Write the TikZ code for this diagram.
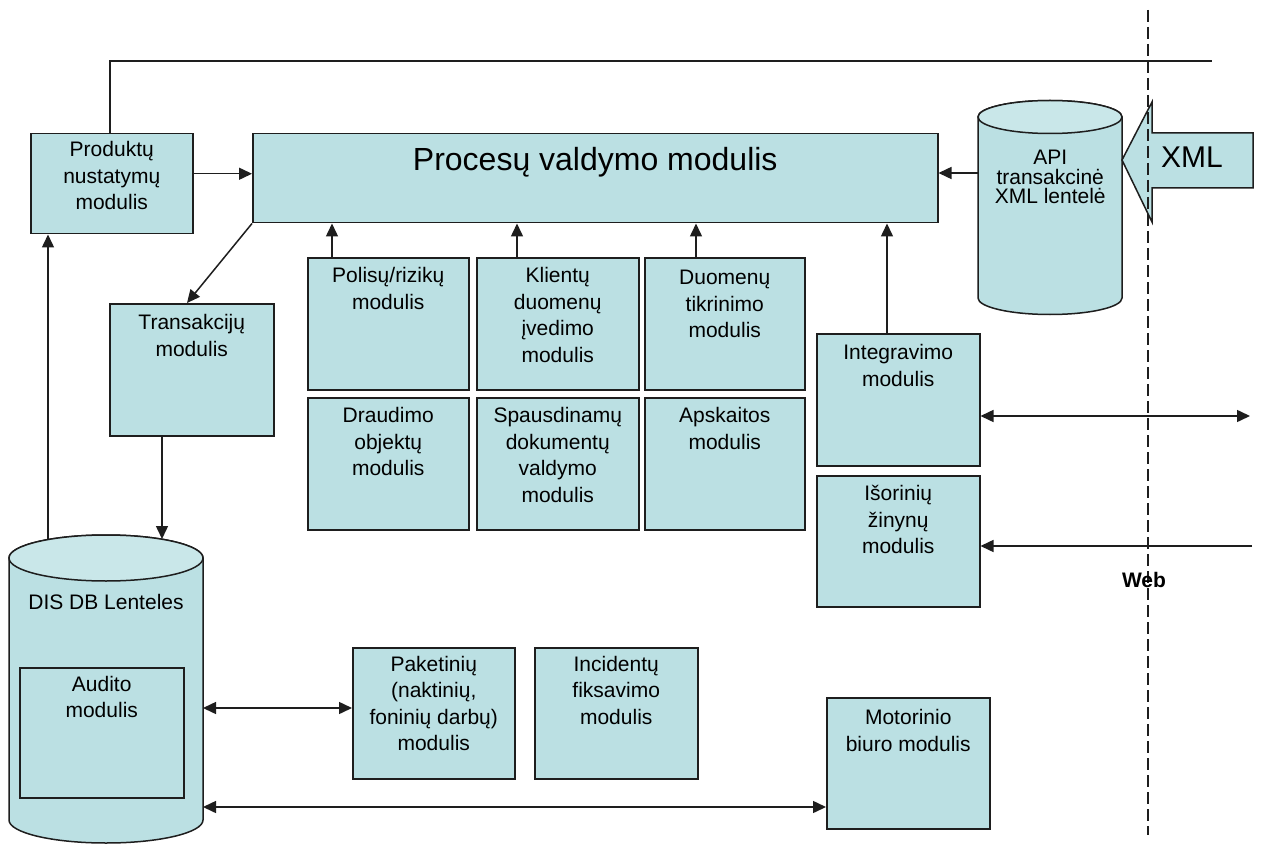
\documentclass[tikz,border=0pt]{standalone}
\usepackage{fontspec}
\setmainfont{Liberation Sans}
\usetikzlibrary{arrows.meta}
\definecolor{boxfill}{RGB}{187,224,227}
\definecolor{boxtop}{RGB}{201,231,233}
\definecolor{ink}{RGB}{30,30,30}
% box text: width, height, first baseline, lines
\newcommand{\modtxt}[4]{\parbox[c][#2pt][t]{#1pt}{\centering\rule{0pt}{#3pt}#4\par}}
\tikzset{
  modbox/.style={draw=ink, line width=1.5pt, fill=boxfill, inner sep=0pt,
    anchor=north west, font=\fontsize{21}{26.5}\selectfont},
  arr/.style={draw=ink, line width=1.5pt, -{Triangle[length=13pt,width=12pt]}},
  darr/.style={draw=ink, line width=1.5pt,
    {Triangle[length=13pt,width=12pt]}-{Triangle[length=13pt,width=12pt]}},
  link/.style={draw=ink, line width=1.5pt},
  cylbody/.style={fill=boxfill, draw=ink, line width=1.5pt},
  cyltop/.style={fill=boxtop, draw=ink, line width=1.5pt},
  plain/.style={font=\fontsize{21}{26.5}\selectfont, inner sep=0pt},
}
\begin{document}
\begin{tikzpicture}[x=1pt,y=-1pt]
\useasboundingbox[fill=white] (0,0) rectangle (1261,845);

% database cylinder with audit box
\path[cylbody] (9,558) -- (9,820)
  arc[start angle=180, end angle=360, x radius=97pt, y radius=23pt]
  -- (203,558)
  arc[start angle=0, end angle=180, x radius=97pt, y radius=23pt] -- cycle;
\path[cyltop] (106,558) ellipse[x radius=97pt, y radius=23pt];
\node[plain, anchor=base] (distext) at (106,609) {DIS DB Lenteles};
\node[modbox] (audit) at (19,667) {\modtxt{164}{130}{23.5}{Audito\\modulis}};

% API transaction table cylinder
\path[cylbody] (978,117) -- (978,298)
  arc[start angle=180, end angle=360, x radius=72pt, y radius=16.5pt]
  -- (1122,117)
  arc[start angle=0, end angle=180, x radius=72pt, y radius=16.5pt] -- cycle;
\path[cyltop] (1050,117) ellipse[x radius=72pt, y radius=16.5pt];
\node[plain, anchor=north west] (apitext) at (978,140)
  {\fontsize{21}{19.5}\selectfont\parbox[c][80pt][t]{144pt}{\centering\rule{0pt}{24.5pt}API\\transakcinė\\XML lentelė\par}};

% incoming XML block arrow
\path[cylbody] (1122,160) -- (1152,102) -- (1152,133) -- (1253,133)
  -- (1253,188) -- (1152,188) -- (1152,222) -- cycle;
\node[font=\fontsize{30}{36}\selectfont, inner sep=0pt, anchor=base] (xmltext) at (1192,168) {XML};

% modules
\node[modbox] (prod) at (30,133) {\modtxt{162}{100}{23}{Produktų\\nustatymų\\modulis}};
\node[modbox] (proc) at (252,133) {\modtxt{685}{89}{37}{\fontsize{32}{38}\selectfont Procesų valdymo modulis}};
\node[modbox] (trans) at (109,303) {\modtxt{164}{132}{26}{Transakcijų\\modulis}};
\node[modbox] (polis) at (307,257) {\modtxt{161}{132}{25}{Polisų/rizikų\\modulis}};
\node[modbox] (klient) at (476,257) {\modtxt{162}{132}{25}{Klientų\\duomenų\\įvedimo\\modulis}};
\node[modbox] (duom) at (644,257) {\modtxt{160}{132}{27}{Duomenų\\tikrinimo\\modulis}};
\node[modbox] (draud) at (307,397) {\modtxt{161}{132}{25}{Draudimo\\objektų\\modulis}};
\node[modbox] (spaus) at (476,397) {\modtxt{162}{132}{25}{Spausdinamų\\dokumentų\\valdymo\\modulis}};
\node[modbox] (apsk) at (644,397) {\modtxt{160}{132}{25}{Apskaitos\\modulis}};
\node[modbox] (integ) at (816,333) {\modtxt{163}{132}{26}{Integravimo\\modulis}};
\node[modbox] (isor) at (816,475) {\modtxt{163}{131}{25}{Išorinių\\žinynų\\modulis}};
\node[modbox] (pak) at (352,647) {\modtxt{162}{131}{23.5}{Paketinių\\(naktinių,\\foninių darbų)\\modulis}};
\node[modbox] (incid) at (534,647) {\modtxt{163}{131}{23.5}{Incidentų\\fiksavimo\\modulis}};
\node[modbox] (motor) at (826,697) {\modtxt{163}{131}{27}{Motorinio\\biuro modulis}};

% connector end points
\coordinate (apiL) at (978,173);
\coordinate (disTa) at (48,540);
\coordinate (disTb) at (162,539);
\coordinate (disR1) at (203,708);
\coordinate (disR2) at (203,807);
\coordinate (webA) at (1250,416);
\coordinate (webB) at (1252,546);
\coordinate (topEnd) at (1212,61);
\coordinate (prodOut) at ([yshift=10pt]prod.east);

% connectors
\draw[link] (110,0 |- prod.north) |- (topEnd);
\draw[arr] (prodOut) -- (prodOut -| proc.west);
\draw[arr] (apiL) -- (apiL -| proc.east);
\draw[arr] (332,0 |- polis.north) -- (332,0 |- proc.south);
\draw[arr] (517,0 |- klient.north) -- (517,0 |- proc.south);
\draw[arr] (696,0 |- duom.north) -- (696,0 |- proc.south);
\draw[arr] (887,0 |- integ.north) -- (887,0 |- proc.south);
\draw[arr] (proc.south west) -- (187,0 |- trans.north);
\draw[arr] (162,0 |- trans.south) -- (disTb);
\draw[arr] (disTa) -- (disTa |- prod.south);
\draw[darr] (disR1) -- (disR1 -| pak.west);
\draw[darr] (disR2) -- (disR2 -| motor.west);
\draw[darr] (webA -| integ.east) -- (webA);
\draw[arr] (webB) -- (webB -| isor.east);

% web boundary
\draw[ink, line width=1.3pt, dash pattern=on 12pt off 5pt] (1148,10) -- (1148,835);
\node[font=\bfseries\fontsize{21}{25}\selectfont, inner sep=0pt, anchor=base] (weblbl) at (1144,587) {Web};
\end{tikzpicture}
\end{document}
